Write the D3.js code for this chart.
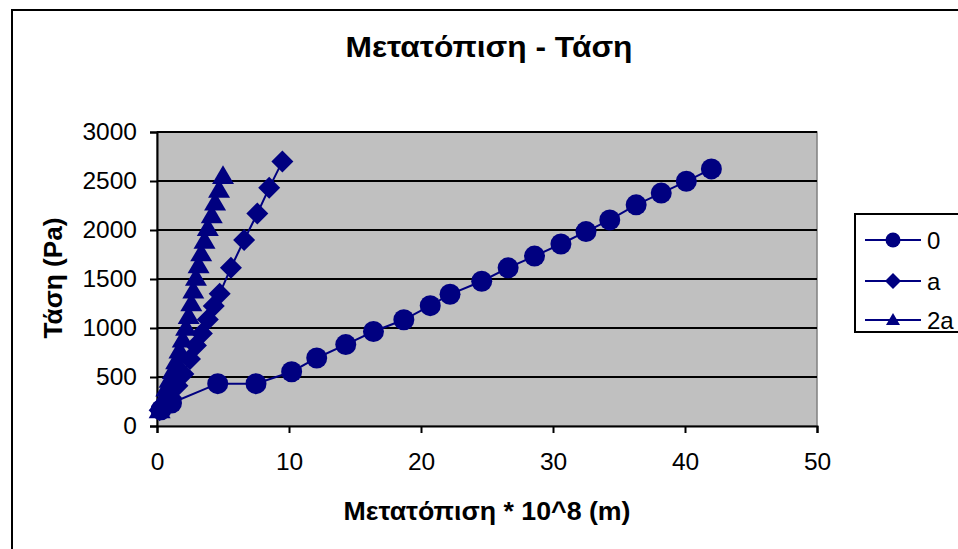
<!DOCTYPE html>
<html>
<head>
<meta charset="utf-8">
<script src="https://cdn.jsdelivr.net/npm/d3@7"></script>
<style>
  html, body { margin: 0; padding: 0; background: #fff; }
  svg { display: block; font-family: "Liberation Sans", Arial, sans-serif; }
</style>
</head>
<body>
<svg id="chart" width="958" height="549"></svg>
<script>
// Displacement (×10^8 m) vs stress (Pa) for three crack lengths
const seriesNames = ["0", "a", "2a"];

const disp0 = [0.3, 1.1, 4.6, 7.5, 10.2, 12.1, 14.3, 16.4, 18.7, 20.7, 22.2, 24.6, 26.6, 28.6, 30.6, 32.5, 34.3, 36.3, 38.2, 40.1, 42.0];
const stress0 = [165, 235, 432, 432, 554, 694, 831, 964, 1084, 1228, 1344, 1477, 1614, 1734, 1857, 1984, 2103, 2257, 2377, 2497, 2623];

const dispA = [0.2, 0.55, 1.05, 1.55, 2.0, 2.5, 2.95, 3.4, 3.85, 4.3, 4.75, 5.6, 6.6, 7.6, 8.5, 9.5];
const stressA = [160, 190, 291, 410, 530, 684, 821, 945, 1088, 1225, 1350, 1615, 1898, 2168, 2430, 2700];

const disp2A = [0.2, 0.45, 0.7, 0.95, 1.2, 1.45, 1.7, 1.95, 2.2, 2.4, 2.6, 2.75, 2.95, 3.15, 3.35, 3.6, 3.85, 4.15, 4.4, 4.7, 5.0];
const stress2A = [160, 270, 380, 470, 560, 660, 770, 880, 1000, 1120, 1250, 1380, 1510, 1640, 1760, 1890, 2020, 2150, 2280, 2410, 2550];

const xTicks = [0, 10, 20, 30, 40, 50];
const yTicks = [0, 500, 1000, 1500, 2000, 2500, 3000];

const chartTitle = "Μετατόπιση - Τάση";
const xTitle = "Μετατόπιση * 10^8 (m)";
const yTitle = "Τάση (Pa)";

const navy = "#000080";
const svg = d3.select("#chart");

const plot = { left: 157, right: 817, top: 132, bottom: 426 };
const x = d3.scaleLinear().domain([0, 50]).range([plot.left, plot.right]);
const y = d3.scaleLinear().domain([0, 3000]).range([plot.bottom, plot.top]);

// outer chart frame
svg.append("rect")
  .attr("x", 12).attr("y", 10).attr("width", 1000).attr("height", 600)
  .attr("fill", "#fff").attr("stroke", "#000").attr("stroke-width", 2);

// plot area
svg.append("rect")
  .attr("x", plot.left).attr("y", plot.top)
  .attr("width", plot.right - plot.left).attr("height", plot.bottom - plot.top)
  .attr("fill", "#c0c0c0").attr("stroke", "#808080").attr("stroke-width", 1.5);

// horizontal gridlines
svg.append("g")
  .selectAll("line")
  .data(yTicks.filter(d => d > 0))
  .join("line")
  .attr("x1", plot.left).attr("x2", plot.right)
  .attr("y1", d => y(d)).attr("y2", d => y(d))
  .attr("stroke", "#000").attr("stroke-width", 2);

// axes
const xAxis = svg.append("g")
  .attr("transform", `translate(0,${plot.bottom})`)
  .call(d3.axisBottom(x).tickValues(xTicks).tickSize(7).tickPadding(20).tickFormat(d3.format("d")));
const yAxis = svg.append("g")
  .attr("transform", `translate(${plot.left},0)`)
  .call(d3.axisLeft(y).tickValues(yTicks).tickSize(7).tickPadding(13).tickFormat(d3.format("d")));

[xAxis, yAxis].forEach(g => {
  g.select(".domain").attr("stroke", "#000").attr("stroke-width", 2);
  g.selectAll(".tick line").attr("stroke", "#000").attr("stroke-width", 2);
  g.selectAll(".tick text")
    .attr("fill", "#000")
    .style("font-size", "24.5px")
    .style("font-family", '"Liberation Sans", Arial, sans-serif');
});

// marker shapes
function drawMarker(g, kind, cx, cy, s) {
  if (kind === "circle") {
    g.append("circle").attr("cx", cx).attr("cy", cy).attr("r", s).attr("fill", navy);
  } else if (kind === "diamond") {
    g.append("path")
      .attr("d", `M${cx},${cy - s}L${cx + s},${cy}L${cx},${cy + s}L${cx - s},${cy}Z`)
      .attr("fill", navy);
  } else {
    const h = s * 1.7, w = s * 1.0;
    g.append("path")
      .attr("d", `M${cx},${cy - h * 0.58}L${cx + w},${cy + h * 0.42}L${cx - w},${cy + h * 0.42}Z`)
      .attr("fill", navy);
  }
}

const series = [
  { name: seriesNames[0], xs: disp0, ys: stress0, kind: "circle", size: 10.5 },
  { name: seriesNames[1], xs: dispA, ys: stressA, kind: "diamond", size: 11 },
  { name: seriesNames[2], xs: disp2A, ys: stress2A, kind: "triangle", size: 11 }
];

const line = d3.line().x(d => x(d[0])).y(d => y(d[1]));

series.forEach(s => {
  const pts = s.xs.map((v, i) => [v, s.ys[i]]);
  const g = svg.append("g");
  g.append("path").attr("d", line(pts))
    .attr("fill", "none").attr("stroke", navy).attr("stroke-width", 2);
  pts.forEach(p => drawMarker(g, s.kind, x(p[0]), y(p[1]), s.size));
});

// titles
svg.append("text")
  .attr("x", 489).attr("y", 57)
  .attr("text-anchor", "middle")
  .attr("textLength", 287).attr("lengthAdjust", "spacingAndGlyphs")
  .style("font-size", "29px").style("font-weight", "bold")
  .text(chartTitle);

svg.append("text")
  .attr("x", 487).attr("y", 520)
  .attr("text-anchor", "middle")
  .attr("textLength", 287).attr("lengthAdjust", "spacingAndGlyphs")
  .style("font-size", "25px").style("font-weight", "bold")
  .text(xTitle);

svg.append("text")
  .attr("transform", "translate(62,278) rotate(-90)")
  .attr("text-anchor", "middle")
  .attr("textLength", 121).attr("lengthAdjust", "spacingAndGlyphs")
  .style("font-size", "25px").style("font-weight", "bold")
  .text(yTitle);

// legend
const legend = svg.append("g");
legend.append("rect")
  .attr("x", 855).attr("y", 214).attr("width", 140).attr("height", 118)
  .attr("fill", "#fff").attr("stroke", "#000").attr("stroke-width", 2);

const legendY = [240, 281, 320];
series.forEach((s, i) => {
  const ly = legendY[i];
  legend.append("line")
    .attr("x1", 865).attr("x2", 921).attr("y1", ly).attr("y2", ly)
    .attr("stroke", navy).attr("stroke-width", 2);
  drawMarker(legend, s.kind, 893, ly, s.kind === "circle" ? 7.5 : (s.kind === "diamond" ? 8 : 7));
  legend.append("text")
    .attr("x", 927).attr("y", ly)
    .attr("dy", "0.36em")
    .style("font-size", "24px")
    .text(s.name);
});
</script>
</body>
</html>
